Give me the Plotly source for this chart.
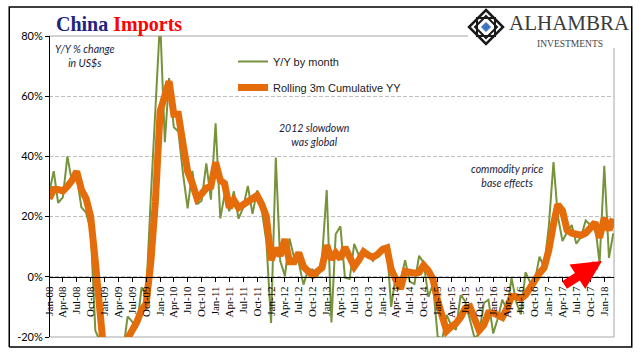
import pandas as pd
import plotly.graph_objects as go

# ---- data (Y/Y % change in US$, monthly, Jan-08 .. Mar-18) ----
yy_by_month = [
    27.6, 35.1, 24.6, 26.4, 40.0, 31.3, 33.7, 23.1, 21.3, 15.6, -17.9, -21.3,   # 2008
    -43.1, -24.1, -25.1, -23.0, -25.2, -13.2, -14.9, -17.0, -3.5, -6.4, 26.7, 55.9,  # 2009
    85.5, 44.7, 66.0, 49.7, 48.3, 34.1, 22.7, 35.2, 24.1, 25.3, 37.7, 25.6,    # 2010
    51.0, 19.4, 27.3, 21.8, 28.4, 19.3, 22.9, 30.2, 20.9, 28.7, 22.1, 11.8,    # 2011
    -15.3, 39.6, 5.3, 0.3, 12.7, 6.3, 4.7, -2.6, 2.4, 2.4, 0.0, 6.0,           # 2012
    28.8, -15.2, 14.1, 16.8, -0.3, -0.7, 10.9, 7.0, 7.4, 7.6, 5.3, 8.3,        # 2013
    10.0, 10.1, -10.0, 0.8, -1.6, 5.5, -1.6, -2.4, 7.0, 4.6, -6.7, -2.4,       # 2014
    -19.9, -20.5, -12.7, -16.2, -17.6, -6.1, -8.1, -13.8, -20.4, -18.8, -8.7, -7.6,  # 2015
    -18.8, -13.8, -7.6, -10.9, -0.4, -8.4, -12.5, 1.5, -1.9, -1.4, 6.7, 3.1,   # 2016
    16.7, 38.1, 20.3, 11.9, 14.8, 17.2, 11.0, 13.3, 18.7, 17.2, 17.7, 4.5,     # 2017
    36.9, 6.3, 14.4,                                                           # 2018
]
rolling_3m = [
    26.0, 29.0, 29.0, 28.5, 30.0, 32.0, 35.0, 29.0, 26.0, 20.0, 5.0, -9.0,     # 2008
    -28.0, -30.0, -31.0, -24.0, -24.0, -20.5, -18.0, -15.0, -11.0, -9.0, 5.0, 25.0,  # 2009
    55.0, 60.0, 65.0, 54.0, 54.0, 44.0, 35.0, 31.0, 26.0, 27.5, 29.5, 30.0,    # 2010
    38.0, 32.0, 31.0, 23.0, 25.5, 23.0, 24.0, 25.0, 26.5, 27.0, 24.0, 20.0,    # 2011
    5.5, 9.5, 7.0, 12.5, 5.0, 5.0, 8.0, 3.4, 1.8, 0.5, 1.8, 3.0,               # 2012
    10.5, 5.8, 8.0, 6.0, 9.8, 6.0, 3.4, 5.6, 8.3, 7.2, 6.5, 7.4,               # 2013
    9.0, 9.6, 2.5, -1.0, -4.0, 1.8, 1.5, 1.2, 1.5, 3.8, 2.0, -0.8,             # 2014
    -8.0, -14.0, -18.0, -16.5, -15.5, -13.5, -10.5, -10.0, -14.5, -17.8, -16.0, -12.0,  # 2015
    -12.0, -13.0, -13.5, -10.5, -6.5, -6.6, -7.3, -6.0, -3.5, -0.5, 1.2, 3.0,  # 2016
    8.8, 17.5, 24.0, 22.0, 15.5, 14.5, 14.2, 13.8, 14.5, 16.5, 18.0, 13.0,     # 2017
    19.5, 15.5, 19.3,                                                          # 2018
]
months = pd.date_range("2008-01-01", periods=len(yy_by_month), freq="MS")
series_names = ["Y/Y by month", "Rolling 3m Cumulative YY"]
y_ticks = [-20, 0, 20, 40, 60, 80]
y_tick_labels = ["-20%", "0%", "20%", "40%", "60%", "80%"]

# ---- pixel helpers: "paper" is the framed box (8..633 x 6..348) ----
W_FIG, H_FIG = 641, 361
FL, FR, FT, FB = 8, 633, 6, 348          # frame edges (px)
L, R, T, B = 49, 614, 36, 337            # plot area edges (px)
ZERO_Y = 277                             # pixel row of the 0% line
def px(x):
    return (x - FL) / (FR - FL)
def py(y):
    return (FB - y) / (FB - FT)

GREEN = "#77933C"
ORANGE = "#E46C0A"

fig = go.Figure()
# outer frame drawn on an invisible overlay subplot spanning the whole paper
frame_x = [0, 1, 1, 0, 0]
frame_y = [0, 0, 1, 1, 0]
fig.add_trace(go.Scatter(x=frame_x, y=frame_y, xaxis="x2", yaxis="y2", mode="lines",
                         line=dict(color="black", width=1.5), showlegend=False,
                         hoverinfo="skip"))
fig.add_trace(go.Scatter(x=months, y=yy_by_month, mode="lines", name=series_names[0],
                         legendgroup="a",
                         line=dict(color=GREEN, width=2)))
fig.add_trace(go.Scatter(x=months, y=rolling_3m, mode="lines", name=series_names[1],
                         legendgroup="b",
                         line=dict(color=ORANGE, width=7)))

def seg(x0, y0, x1, y1, color, width, layer="between"):
    return dict(type="line", xref="paper", yref="paper", x0=px(x0), x1=px(x1),
                y0=py(y0), y1=py(y1), line=dict(color=color, width=width), layer=layer)

shapes = []
shapes.append(seg(L, T, 468, T, "#A6A6A6", 1))
shapes.append(seg(L, B, R, B, "#A6A6A6", 1))
shapes.append(seg(R, B, R, 48, "#A6A6A6", 1))
shapes.append(dict(type="rect", xref="paper", yref="paper", x0=px(468), x1=px(626),
                   y0=py(46), y1=py(8), fillcolor="white", line=dict(width=0), layer="above"))

cx, cy = 486, 27
def diamond(r):
    return "M {} {} L {} {} L {} {} L {} {} Z".format(
        px(cx), py(cy - r), px(cx + r), py(cy), px(cx), py(cy + r), px(cx - r), py(cy))
def square(h):
    return "M {} {} L {} {} L {} {} L {} {} Z".format(
        px(cx - h), py(cy - h), px(cx + h), py(cy - h), px(cx + h), py(cy + h), px(cx - h), py(cy + h))
shapes.append(dict(type="path", xref="paper", yref="paper", path=diamond(17),
                   line=dict(color="#1a1a1a", width=2.5), layer="above"))
shapes.append(dict(type="path", xref="paper", yref="paper", path=square(9),
                   line=dict(color="#1a1a1a", width=2), layer="above"))
shapes.append(dict(type="path", xref="paper", yref="paper", path=diamond(11),
                   line=dict(color="#1a1a1a", width=2), layer="above"))
shapes.append(dict(type="path", xref="paper", yref="paper", path=diamond(4.5),
                   fillcolor="#3F73C0", line=dict(color="#3F73C0", width=1), layer="above"))

annotations = [
    dict(text="<b><span style='color:#23237D'>China</span> <span style='color:#FF0000'>Imports</span></b>",
         xref="paper", yref="paper", x=px(54), y=py(24), xanchor="left", yanchor="middle",
         showarrow=False, font=dict(family="Liberation Serif", size=20)),
    dict(text="<i>Y/Y % change<br>in US$s</i>", xref="paper", yref="paper",
         x=px(85), y=py(56), xanchor="center", yanchor="middle", align="center",
         showarrow=False, font=dict(family="Lato", size=10.5, color="#1a1a3a")),
    dict(text="<i>2012 slowdown<br>was global</i>", xref="paper", yref="paper",
         x=px(314), y=py(135), xanchor="center", yanchor="middle", align="center",
         showarrow=False, font=dict(family="Lato", size=10.5, color="#1a1a3a")),
    dict(text="<i>commodity price<br>base effects</i>", xref="paper", yref="paper",
         x=px(507), y=py(176), xanchor="center", yanchor="middle", align="center",
         showarrow=False, font=dict(family="Lato", size=10.5, color="#1a1a3a")),
    dict(text="ALHAMBRA", xref="paper", yref="paper", x=px(507), y=py(37),
         xanchor="left", yanchor="bottom", showarrow=False,
         font=dict(family="Liberation Serif", size=21, color="#3a3a3a")),
    dict(text="INVESTMENTS", xref="paper", yref="paper", x=px(570), y=py(37.5),
         xanchor="center", yanchor="top", showarrow=False,
         font=dict(family="Liberation Serif", size=9.5, color="#444444")),
    dict(text="", xref="paper", yref="paper", x=px(602), y=py(261),
         ax=-39, ay=25, showarrow=True, arrowhead=2, arrowsize=0.65,
         arrowwidth=9, arrowcolor="#FF0000", standoff=0),
]

fig.update_layout(
    width=W_FIG, height=H_FIG,
    margin=dict(l=FL, r=W_FIG - FR, t=FT, b=H_FIG - FB, pad=0, autoexpand=False),
    paper_bgcolor="white", plot_bgcolor="rgba(0,0,0,0)",
    showlegend=True,
    legend=dict(x=px(233), y=py(47), xanchor="left", yanchor="top",
                bgcolor="rgba(0,0,0,0)", font=dict(family="Liberation Sans", size=11, color="#1a1a1a"),
                tracegroupgap=7, itemwidth=30),
    shapes=shapes,
    annotations=annotations,
    xaxis=dict(type="date", range=["2008-01-01", "2018-03-06"],
               domain=[px(L), px(R)], automargin=False,
               anchor="free", position=py(ZERO_Y),
               tick0="2008-01-01", dtick="M3", tickformat="%b-%y", tickangle=-90,
               showline=True, linecolor="black", linewidth=1,
               ticks="outside", ticklen=4, tickcolor="black",
               showgrid=False, zeroline=False,
               tickfont=dict(family="Liberation Serif", size=11, color="black")),
    yaxis=dict(range=[-20, 80], domain=[py(B), py(T)], automargin=False,
               anchor="free", position=px(L),
               tickmode="array", tickvals=y_ticks, ticktext=y_tick_labels,
               showline=True, linecolor="black", linewidth=1,
               ticks="outside", ticklen=4, tickcolor="black",
               showgrid=True, gridcolor="#BFBFBF", griddash="4px,2px", gridwidth=1,
               zeroline=False,
               tickfont=dict(family="Lato", size=11, color="black")),
    xaxis2=dict(domain=[0, 1], range=[-0.002, 1.002], anchor="y2", visible=False,
                fixedrange=True),
    yaxis2=dict(domain=[0, 1], range=[-0.003, 1.003], anchor="x2", visible=False,
                fixedrange=True),
)

fig.write_html("out.html", config={"displayModeBar": False},
               post_script="document.body.style.margin='0';document.body.style.overflow='hidden';")
